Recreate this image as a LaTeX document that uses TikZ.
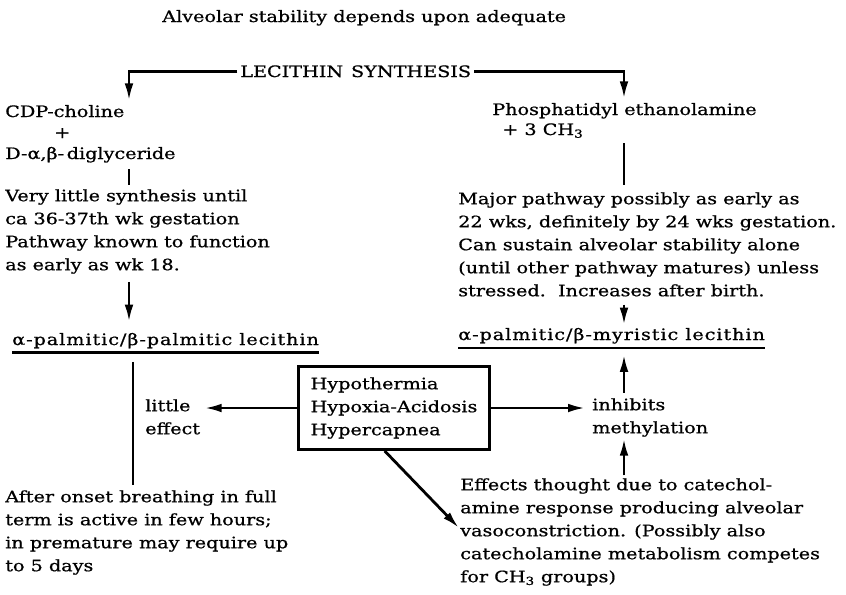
\documentclass[tikz,border=0pt]{standalone}
\usepackage{fontspec}
\setmainfont{DejaVu Serif}[FakeStretch=1.22, FakeBold=0.8]
\usetikzlibrary{arrows.meta, positioning, calc}

\begin{document}
\begin{tikzpicture}[x=0.75pt, y=-0.75pt,
    >={Latex[length=13pt, width=6.5pt]},
    every node/.style={inner sep=0pt, font=\fontsize{11.8}{17.25}\selectfont},
    txt/.style={anchor=north west, align=left},
    line/.style={anchor=base west},
    product/.style={anchor=base west, font=\fontsize{11.8}{17.25}\selectfont\addfontfeature{LetterSpace=6}},
    link/.style={line width=2.1pt},
    uline/.style={line width=1.8pt},
    stressbox/.style={draw, line width=2.3pt, align=left, inner xsep=9pt, inner ysep=8pt}]
  \useasboundingbox (0,0) rectangle (846,594);

  \coordinate (lcol) at (129,0);
  \coordinate (pcol) at (133,0);
  \coordinate (rcol) at (624,0);

  \node[line] at (162,22) (title) {Alveolar stability depends upon adequate};
  \node[line] at (240,77) (lecithin) {LECITHIN\enspace SYNTHESIS};

  % choline pathway
  \node[line] at (5,117) (cdp) {CDP-choline};
  \node[line] at (54,138) (plus) {+};
  \node[line] at (5,159) (diglyc) {D-α,β-\,diglyceride};
  \node[txt] at (5,189) (leftnote) {Very little synthesis until\\ca 36-37th wk gestation\\Pathway known to function\\as early as wk 18.};
  \node[product] at (12,345) (palmitic) {α-palmitic/β-palmitic lecithin};
  \node[txt] at (145,399) (little) {little\\effect};
  \node[txt] at (5,490) (after) {After onset breathing in full\\term is active in few hours;\\in premature may require up\\to 5 days};

  % methylation pathway
  \node[line] at (492,115) (phos) {Phosphatidyl ethanolamine};
  \node[line] at (502,135) (methyl) {+ 3 CH\textsubscript{3}};
  \node[txt] at (458,192) (rightnote) {Major pathway possibly as early as\\22 wks, definitely by 24 wks gestation.\\Can sustain alveolar stability alone\\(until other pathway matures) unless\\stressed.\ \ Increases after birth.};
  \node[product] at (458,340) (myristic) {α-palmitic/β-myristic lecithin};
  \node[txt] at (592,398) (inhib) {inhibits\\methylation};
  \node[txt] at (460,478) (effects) {Effects thought due to catechol-\\amine response producing alveolar\\vasoconstriction. (Possibly also\\catecholamine metabolism competes\\for CH\textsubscript{3} groups)};

  \node[stressbox] at (394,408) (stress) {Hypothermia\\Hypoxia-Acidosis\\Hypercapnea};

  \draw[uline] ([yshift=-3pt]palmitic.south west) -- ([yshift=-3pt]palmitic.south east);
  \draw[uline] ([yshift=-3pt]myristic.south west) -- ([yshift=-3pt]myristic.south east);

  \draw[link, ->, shorten <=2pt, shorten >=3pt] (lecithin.west) -| (cdp.north -| lcol);
  \draw[link, ->, shorten <=2pt, shorten >=3pt] (lecithin.east) -| (phos.north -| rcol);

  \draw[link, shorten <=5pt, shorten >=3pt] (diglyc.south -| lcol) -- (leftnote.north -| lcol);
  \draw[link, ->, shorten <=6pt, shorten >=8pt] (leftnote.south -| lcol) -- (palmitic.north -| lcol);
  \draw[link, shorten <=10pt, shorten >=4pt] (palmitic.south -| pcol) -- (after.north -| pcol);

  \draw[link, shorten <=4pt, shorten >=5pt] (methyl.south -| rcol) -- (rightnote.north -| rcol);
  \draw[link, ->, shorten <=6pt, shorten >=2pt] (rightnote.south -| rcol) -- (myristic.north -| rcol);

  \draw[link, ->, shorten >=3pt] (stress.west) -- (stress.west -| little.east);
  \draw[link, ->, shorten >=5pt] (stress.east) -- (stress.east -| inhib.west);
  \draw[link, ->] ([xshift=-7pt]stress.south) -- ([shift={(-1,50)}]effects.north west);
  \draw[link, ->, shorten <=2pt, shorten >=1pt] (effects.north -| rcol) -- (inhib.south -| rcol);
  \draw[link, ->, shorten <=4pt, shorten >=4pt] (inhib.north -| rcol) -- ([yshift=-4pt]myristic.south -| rcol);
\end{tikzpicture}
\end{document}
